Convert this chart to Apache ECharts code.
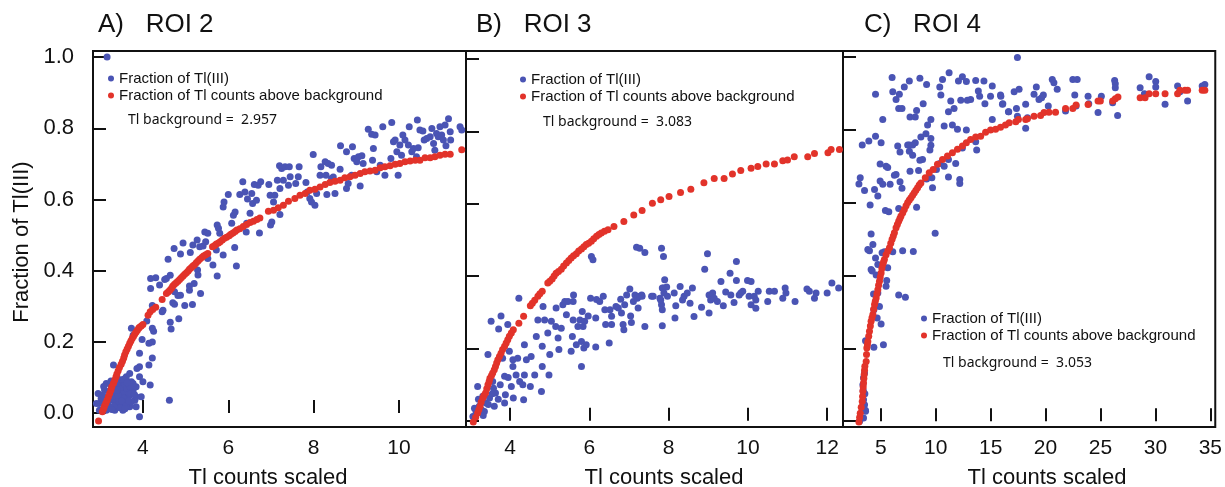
<!DOCTYPE html>
<html>
<head>
<meta charset="utf-8">
<script src="https://cdn.jsdelivr.net/npm/echarts@6/dist/echarts.min.js"></script>
<style>
  html, body { margin: 0; padding: 0; background: #fff; }
  #main { width: 1225px; height: 487px; }
</style>
</head>
<body>
<div id="main"></div>
<script>
// ROI 2 (panel A)
var roi2Tl3 = [
  [3.16,1.0],
  [2.95,0.055],[2.98,0.027],[3.10,0.065],[3.18,0.046],[3.26,0.074],[3.30,0.036],[3.38,0.055],[3.45,0.083],[3.49,0.027],[3.57,0.065],
  [3.61,0.046],[3.65,0.088],[3.69,0.018],[3.77,0.065],[3.81,0.036],[3.84,0.074],[3.22,0.018],[3.34,0.008],[3.53,0.008],[3.14,0.083],
  [3.41,0.097],[3.61,0.102],[3.73,0.088],[3.92,0.102],[4.00,0.088],[3.84,0.046],[3.96,0.046],[3.84,0.018],[3.02,0.041],[3.26,0.055],
  [3.38,0.069],[3.49,0.046],[3.57,0.032],[3.69,0.05],[3.30,0.088],[3.77,0.083],[3.06,0.05],[3.18,0.032],[3.34,0.046],[3.45,0.06],
  [3.53,0.074],[3.65,0.06],[3.41,0.022],[3.61,0.022],[3.73,0.032],[3.30,0.069],[3.49,0.088],[3.14,0.008],[2.91,0.027],[2.98,0.008],
  [3.22,0.062],[3.28,0.045],[3.33,0.06],[3.36,0.03],[3.40,0.078],[3.43,0.04],[3.47,0.068],[3.51,0.055],[3.55,0.042],[3.58,0.08],
  [3.62,0.07],[3.66,0.035],[3.70,0.075],[3.42,0.05],[3.36,0.085],[3.46,0.015],[3.54,0.095],[3.25,0.09],[3.12,0.03],[3.08,0.075],
  [3.58,0.012],[3.72,0.055],[3.80,0.052],[3.32,0.02],[3.40,0.065],[3.50,0.035],[3.63,0.085],[3.27,0.01],
  [3.92,-0.01],[4.62,0.036],[3.31,0.135],[3.69,0.111],[4.17,0.079],[3.86,0.125],[3.92,0.13],[4.14,0.135],[4.22,0.155],[3.92,0.168],
  [3.77,0.219],[3.73,0.238],[3.98,0.207],[4.14,0.196],[4.22,0.2],[4.25,0.23],[4.22,0.238],[4.09,0.259],[4.22,0.302],[4.45,0.285],
  [4.47,0.289],[4.64,0.255],[4.66,0.236],[4.84,0.265],[4.70,0.31],[4.74,0.306],[4.98,0.302],[5.16,0.305],[4.82,0.33],[4.18,0.378],
  [4.18,0.35],[4.30,0.38],[4.39,0.36],[4.51,0.375],[4.64,0.387],[4.55,0.378],[4.74,0.341],[4.88,0.331],[5.09,0.357],[5.09,0.345],
  [5.20,0.364],[5.35,0.336],[5.28,0.402],[5.29,0.388],[4.59,0.432],[4.73,0.462],[4.88,0.447],[4.94,0.478],[5.11,0.451],[5.17,0.472],
  [5.27,0.486],[5.33,0.467],[5.41,0.469],[5.47,0.481],[5.52,0.434],[5.64,0.416],[5.74,0.385],[5.72,0.458],[5.88,0.444],[6.15,0.465],
  [6.19,0.413],[5.45,0.509],[5.52,0.505],[5.80,0.505],[6.42,0.509],[6.73,0.506],
  [5.74,0.528],[5.77,0.519],[5.88,0.579],[5.90,0.593],[6.00,0.614],[6.12,0.556],[6.16,0.565],[6.08,0.533],[6.27,0.614],[6.34,0.65],
  [6.39,0.621],[6.45,0.601],[6.55,0.617],[6.57,0.589],[6.61,0.642],[6.66,0.598],[6.70,0.64],[6.76,0.65],[6.51,0.561],[6.43,0.533],
  [6.95,0.642],[6.98,0.612],[7.02,0.537],[6.99,0.528],[7.06,0.593],[7.09,0.612],[7.15,0.654],[7.21,0.631],[7.21,0.558],[7.20,0.695],
  [7.25,0.687],[7.29,0.654],[7.33,0.692],[7.43,0.692],[7.45,0.664],[7.41,0.64],[7.58,0.645],[7.64,0.664],[7.66,0.692],[7.82,0.648],
  [7.85,0.621],[7.91,0.603],[7.95,0.593],[8.03,0.584],[7.99,0.726],[8.07,0.617],[8.15,0.668],[8.17,0.692],[8.27,0.706],[8.34,0.701],
  [8.42,0.696],[8.31,0.614],[8.50,0.617],[8.42,0.659],[8.29,0.668],[8.46,0.663],[8.62,0.685],[8.63,0.751],[8.77,0.734],[8.91,0.748],
  [8.77,0.631],[8.81,0.645],[8.89,0.668],[8.95,0.715],[9.01,0.706],[9.05,0.72],[9.09,0.638],[9.13,0.723],[9.16,0.701],[9.28,0.797],
  [9.36,0.783],[9.40,0.743],[9.44,0.781],[9.38,0.71],[9.48,0.678],[9.56,0.696],[9.62,0.804],[9.67,0.668],[9.81,0.715],[9.83,0.816],
  [9.87,0.762],[9.91,0.767],[9.95,0.734],[10.02,0.753],[9.98,0.668],[10.09,0.781],[10.14,0.767],[10.06,0.724],[10.22,0.753],[10.24,0.804],
  [10.30,0.734],[10.34,0.743],[10.43,0.823],[10.45,0.745],[10.41,0.72],[10.49,0.795],[10.56,0.792],[10.59,0.767],[10.65,0.771],[10.73,0.776],
  [10.77,0.799],[10.81,0.757],[10.84,0.738],[10.88,0.785],[10.92,0.776],[10.96,0.804],[11.00,0.781],[11.04,0.767],[11.08,0.809],[11.10,0.751],
  [11.16,0.827],[11.20,0.79],[11.21,0.767],[11.43,0.804],[11.47,0.795]
];
var roi2Counts = [
  [2.96,-0.022],[3.05,0.004],[3.08,0.012],[3.10,0.02],[3.13,0.028],[3.16,0.036],[3.19,0.046],[3.22,0.055],[3.25,0.065],[3.27,0.074],
  [3.31,0.084],[3.34,0.093],[3.37,0.102],[3.39,0.11],[3.42,0.119],[3.45,0.128],[3.49,0.137],[3.52,0.146],[3.55,0.155],[3.57,0.163],
  [3.60,0.172],[3.63,0.18],[3.66,0.188],[3.69,0.196],[3.72,0.203],[3.75,0.21],[3.78,0.216],[3.81,0.222],[3.84,0.228],[3.87,0.233],
  [3.90,0.238],[3.92,0.241],[3.96,0.245],[4.00,0.249],
  [4.12,0.275],[4.17,0.285],[4.23,0.291],[4.30,0.297],[4.45,0.319],[4.55,0.336],[4.59,0.34],[4.63,0.345],[4.67,0.351],[4.70,0.357],
  [4.74,0.362],[4.78,0.366],[4.82,0.37],[4.86,0.375],[4.90,0.38],[4.94,0.385],[4.98,0.39],[5.02,0.394],[5.06,0.399],[5.09,0.404],
  [5.13,0.408],[5.17,0.413],[5.21,0.417],[5.25,0.422],[5.29,0.427],[5.33,0.432],[5.38,0.437],[5.42,0.441],[5.47,0.445],[5.52,0.448],
  [5.63,0.467],[5.68,0.471],[5.72,0.475],[5.77,0.478],[5.81,0.481],[5.86,0.486],[5.91,0.491],[5.96,0.494],[6.02,0.498],[6.06,0.502],
  [6.11,0.506],[6.16,0.51],[6.20,0.514],[6.27,0.518],[6.35,0.524],[6.43,0.53],[6.51,0.535],[6.59,0.539],[6.67,0.544],[6.74,0.548],
  [6.94,0.567],[7.06,0.57],[7.17,0.577],[7.29,0.584],[7.41,0.595],[7.56,0.603],[7.68,0.612],[7.80,0.617],[7.91,0.626],[8.03,0.629],
  [8.15,0.635],[8.27,0.642],[8.38,0.648],[8.50,0.651],[8.62,0.654],[8.73,0.661],[8.85,0.664],[8.97,0.668],[9.09,0.673],[9.20,0.678],
  [9.32,0.68],[9.44,0.682],[9.56,0.689],[9.67,0.692],[9.79,0.695],[9.91,0.699],[10.02,0.701],[10.14,0.706],[10.26,0.708],[10.38,0.71],
  [10.49,0.71],[10.61,0.717],[10.73,0.717],[10.84,0.72],[10.96,0.724],[11.08,0.727],[11.20,0.727],[11.47,0.74]
];

// ROI 3 (panel B)
var roi3Tl3 = [
  [3.06,0.012],[3.14,0.026],[3.18,0.095],[3.22,0.04],[3.27,0.054],[3.31,0.068],[3.35,0.026],[3.39,0.049],[3.44,0.183],[3.48,0.063],
  [3.52,0.275],[3.56,0.109],[3.60,0.04],[3.63,0.077],[3.71,0.254],[3.77,0.29],[3.81,0.173],[3.86,0.123],[3.86,0.049],[3.88,0.072],
  [3.94,0.266],[3.98,0.192],[4.03,0.095],[4.07,0.15],[4.07,0.169],[4.08,0.063],[4.15,0.127],[4.19,0.173],[4.22,0.339],[4.24,0.109],
  [4.32,0.1],[4.34,0.058],[4.36,0.127],[4.36,0.21],[4.41,0.169],[4.51,0.095],[4.53,0.178],[4.62,0.127],[4.66,0.233],[4.70,0.279],
  [4.79,0.081],[4.81,0.206],[4.81,0.15],[4.83,0.316],[4.87,0.279],[4.95,0.243],[4.98,0.127],[5.00,0.183],[5.04,0.275],[5.15,0.261],
  [5.16,0.312],[5.21,0.229],[5.23,0.197],[5.29,0.256],[5.33,0.321],[5.38,0.33],[5.42,0.293],[5.46,0.33],[5.54,0.192],[5.57,0.233],
  [5.59,0.33],[5.59,0.279],[5.60,0.348],[5.67,0.21],[5.71,0.261],[5.76,0.279],[5.80,0.15],[5.80,0.219],[5.82,0.302],[5.84,0.261],
  [5.86,0.201],[5.88,0.275],[5.92,0.21],[5.97,0.29],[6.05,0.454],[6.09,0.445],[6.03,0.339],[6.16,0.284],[6.16,0.204],[6.18,0.335],
  [6.26,0.33],[6.35,0.344],[6.39,0.307],[6.41,0.266],[6.50,0.215],[6.52,0.307],[6.56,0.266],[6.56,0.289],[6.67,0.316],[6.73,0.312],
  [6.79,0.336],[6.81,0.298],[6.85,0.266],[6.87,0.252],[6.89,0.321],[6.94,0.348],[7.02,0.364],[7.04,0.29],[7.06,0.272],[7.11,0.33],
  [7.15,0.348],[7.19,0.48],[7.21,0.339],[7.23,0.312],[7.27,0.344],[7.27,0.477],[7.32,0.348],[7.40,0.261],[7.40,0.465],[7.57,0.344],
  [7.78,0.339],[7.82,0.477],[7.84,0.263],[7.87,0.454],[7.82,0.321],[7.87,0.367],
  [3.10,0.035],[3.20,0.06],[3.28,0.03],[3.45,0.045],[3.55,0.075],[3.70,0.06],[3.75,0.1],[3.95,0.12],[3.58,0.09],[3.32,0.015],
  [7.33,0.344],[7.61,0.344],[7.80,0.334],[7.84,0.307],[7.90,0.39],[7.95,0.37],[7.84,0.367],[7.88,0.353],[7.97,0.344],[8.14,0.353],
  [8.18,0.318],[8.16,0.284],[8.29,0.371],[8.35,0.334],[8.39,0.344],[8.47,0.353],[8.54,0.325],[8.60,0.367],[8.64,0.288],[8.83,0.314],
  [8.91,0.419],[8.98,0.462],[9.02,0.348],[9.02,0.298],[9.06,0.334],[9.11,0.353],[9.15,0.339],[9.23,0.33],[9.32,0.385],[9.38,0.318],
  [9.44,0.356],[9.55,0.408],[9.57,0.348],[9.65,0.327],[9.71,0.44],[9.71,0.388],[9.78,0.348],[9.82,0.353],[9.87,0.358],[9.99,0.388],
  [10.08,0.385],[10.03,0.344],[10.08,0.321],[10.16,0.344],[10.20,0.311],[10.26,0.358],[10.20,0.334],[10.50,0.33],[10.54,0.358],[10.67,0.358],
  [10.88,0.339],[10.94,0.367],[10.96,0.353],[11.19,0.33],[11.49,0.364],[11.55,0.358],[11.68,0.339],[11.72,0.353],[12.00,0.353],[12.12,0.381],
  [12.29,0.367]
];
var roi3Counts = [
  [3.07,-0.003],[3.13,0.01],[3.18,0.022],[3.21,0.031],[3.24,0.04],[3.27,0.052],[3.31,0.063],[3.34,0.07],[3.38,0.077],[3.41,0.089],
  [3.44,0.1],[3.47,0.109],[3.49,0.118],[3.53,0.125],[3.56,0.132],[3.60,0.141],[3.63,0.15],[3.66,0.16],[3.69,0.169],[3.73,0.178],
  [3.77,0.187],[3.81,0.197],[3.86,0.206],[3.90,0.215],[3.94,0.224],[3.98,0.234],[4.03,0.243],[4.08,0.252],[4.22,0.27],[4.34,0.289],
  [4.51,0.318],[4.56,0.325],[4.62,0.333],[4.70,0.344],[4.75,0.351],[4.81,0.358],[4.95,0.381],[5.00,0.386],[5.06,0.392],[5.11,0.4],
  [5.16,0.408],[5.22,0.413],[5.29,0.419],[5.35,0.428],[5.42,0.436],[5.48,0.443],[5.54,0.45],[5.60,0.456],[5.67,0.462],[5.73,0.469],
  [5.80,0.475],[5.86,0.481],[5.92,0.487],[5.98,0.491],[6.05,0.496],[6.11,0.503],[6.18,0.51],[6.24,0.515],[6.30,0.519],[6.38,0.524],[6.47,0.528],
  [6.62,0.537],[6.87,0.551],[7.12,0.569],[7.33,0.581],[7.59,0.601],[7.80,0.611],[8.01,0.62],[8.30,0.631],[8.56,0.64],[8.89,0.658],
  [9.15,0.67],[9.40,0.67],[9.61,0.682],[9.82,0.692],[10.08,0.698],[10.25,0.703],[10.46,0.71],[10.67,0.71],[10.88,0.719],[11.00,0.721],
  [11.17,0.73],[11.51,0.73],[11.68,0.739],[12.02,0.741],[12.10,0.75],[12.31,0.75]
];

// ROI 4 (panel C)
var roi4Tl3 = [
  [3.07,0.0],[3.43,0.009],[3.61,0.027],[3.52,0.045],[3.43,0.059],[3.37,0.1],[3.52,0.132],[3.43,0.119],[3.60,0.03],[3.55,0.075],[3.40,0.085],
  [3.61,0.221],[4.37,0.203],[5.24,0.21],[5.03,0.267],[4.67,0.283],[4.88,0.315],[4.37,0.306],[4.34,0.349],[4.73,0.352],
  [5.48,0.37],[5.54,0.386],[4.58,0.401],[4.22,0.412],[4.12,0.416],[5.63,0.421],[4.73,0.43],[4.52,0.448],[5.12,0.462],[5.33,0.465],
  [6.09,0.465],[3.97,0.468],[3.82,0.471],[4.28,0.485],[4.12,0.514],[6.63,0.346],[7.24,0.34],[6.99,0.468],[7.96,0.466],[9.95,0.516],
  [4.03,0.593],[5.42,0.578],[5.73,0.575],[6.63,0.584],[8.26,0.587],[3.52,0.633],[3.01,0.651],[3.13,0.668],[4.43,0.636],[4.73,0.618],
  [4.94,0.659],[5.18,0.65],[5.85,0.65],[6.24,0.675],[6.39,0.677],[6.75,0.657],[6.93,0.639],[5.48,0.7],[5.63,0.696],[4.94,0.706],
  [7.66,0.686],[8.44,0.688],[8.80,0.718],[8.56,0.716],[7.90,0.73],[9.71,0.641],[9.65,0.668],[9.17,0.665],[10.07,0.691],[11.16,0.67],
  [12.19,0.663],[12.19,0.652],[10.77,0.7],[10.37,0.707],[11.82,0.707],[11.16,0.718],[12.43,0.75],[13.73,0.744],[3.31,0.758],[3.91,0.769],
  [4.52,0.782],[5.03,0.764],[6.54,0.755],[6.75,0.739],[7.45,0.758],[7.60,0.758],[7.90,0.758],[8.14,0.764],[7.60,0.741],[8.65,0.78],
  [9.56,0.776],[9.56,0.757],[9.47,0.744],[9.11,0.789],[9.56,0.828],[9.26,0.813],[10.77,0.81],[11.52,0.813],[11.98,0.801],[12.79,0.799],
  [5.18,0.828],[4.52,0.897],[6.03,0.943],[6.09,0.904],[6.39,0.883],[6.69,0.897],[7.14,0.917],[6.63,0.858],[6.93,0.858],[7.60,0.934],
  [7.66,0.835],[8.14,0.835],[8.26,0.853],[8.56,0.941],[8.86,0.871],[9.17,0.924],[10.37,0.917],[10.47,0.895],[10.62,0.938],[11.22,0.956],
  [11.16,0.849],[11.37,0.879],[11.67,0.858],[12.07,0.934],[12.43,0.945],[12.79,0.932],[12.28,0.881],[12.88,0.881],[13.18,0.883],[13.64,0.935],
  [13.88,0.906],[14.39,0.934],[14.00,0.892],[14.48,0.871],[15.15,0.92],[14.99,0.892],[15.90,0.895],[16.11,0.871],[16.65,0.849],[15.15,0.828],
  [13.64,0.767],
  [17.44,0.998],[15.93,0.892],[16.08,0.87],[16.62,0.849],[17.14,0.904],[17.59,0.911],[17.35,0.858],[17.44,0.837],[18.19,0.87],[18.19,0.804],
  [18.35,0.833],[18.95,0.897],[19.16,0.917],[19.40,0.883],[19.64,0.888],[19.80,0.895],[20.25,0.865],[20.61,0.938],[20.76,0.929],[21.06,0.911],
  [21.82,0.851],[22.48,0.938],[22.88,0.938],[22.66,0.895],[22.78,0.865],[23.87,0.892],[23.93,0.871],[24.78,0.847],[25.08,0.892],[26.11,0.874],
  [26.29,0.935],[26.35,0.926],[26.35,0.915],[26.56,0.839],[28.61,0.915],[29.00,0.899],[29.43,0.945],[30.03,0.932],[30.03,0.917],[30.88,0.87],
  [32.02,0.92],[32.23,0.904],[32.93,0.879],[34.26,0.92],[34.50,0.924]
];
var roi4Counts = [
  [3.01,-0.002],[3.07,0.01],[3.13,0.022],[3.22,0.038],[3.31,0.054],[3.34,0.068],[3.37,0.082],[3.40,0.094],[3.43,0.105],[3.46,0.117],
  [3.49,0.128],[3.52,0.14],[3.55,0.151],[3.67,0.164],[3.70,0.183],[3.73,0.201],[3.78,0.21],[3.82,0.219],[3.90,0.233],[3.97,0.247],
  [4.05,0.261],[4.12,0.274],[4.20,0.284],[4.28,0.293],[4.35,0.307],[4.43,0.32],[4.50,0.329],[4.58,0.338],[4.65,0.35],[4.73,0.361],
  [4.80,0.373],[4.88,0.384],[4.95,0.396],[5.03,0.407],[5.10,0.419],[5.18,0.43],[5.25,0.437],[5.33,0.444],[5.48,0.457],[5.64,0.467],
  [5.79,0.476],[5.91,0.488],[6.03,0.499],[6.14,0.508],[6.24,0.517],[6.39,0.531],[6.51,0.54],[6.63,0.549],[6.74,0.556],[6.84,0.563],
  [7.00,0.572],[7.14,0.581],[7.30,0.591],[7.45,0.6],[7.60,0.607],[7.75,0.613],[7.90,0.62],[8.05,0.627],[8.20,0.634],[8.35,0.641],
  [8.50,0.648],[8.65,0.654],[9.05,0.668],[9.41,0.682],[9.77,0.691],[10.16,0.705],[10.62,0.718],[11.07,0.728],[11.52,0.737],
  [11.98,0.746],[12.43,0.755],[12.79,0.764],[13.18,0.773],[13.64,0.78],[14.09,0.782],[14.54,0.793],[14.99,0.799],[15.45,0.801],[15.90,0.807],
  [16.35,0.813],[16.69,0.819],[17.29,0.822],[17.53,0.828],[18.19,0.828],[18.35,0.83],[18.95,0.837],[19.55,0.839],[19.86,0.847],[20.31,0.848],
  [20.91,0.848],[21.82,0.858],[22.48,0.858],[22.78,0.868],[23.87,0.869],[24.78,0.879],[24.99,0.879],[26.11,0.879],[26.35,0.885],[26.59,0.89],
  [28.61,0.888],[29.06,0.888],[29.43,0.899],[30.03,0.899],[30.88,0.899],[32.02,0.899],[32.23,0.908],[32.69,0.908],[32.93,0.908],[34.26,0.908],
  [34.50,0.908]
];

var panelTitles = ['A)   ROI 2', 'B)   ROI 3', 'C)   ROI 4'];
var backgrounds = ['Tl background =  2.957', 'Tl background =  3.083', 'Tl background =  3.053'];
var xRanges = [[2.83, 11.57], [2.886, 12.4], [1.56, 35.45]];
var yRanges = [[-0.039, 1.017], [-0.017, 1.022], [-0.016, 1.016]];
var seriesNames = ['Fraction of Tl(III)', 'Fraction of Tl counts above background'];

var BLUE = '#4a54b4';
var RED = '#e2332a';
var FONT = '"Liberation Sans", Arial, sans-serif';

var mychar = echarts.init(document.getElementById('main'), null, { renderer: 'canvas' });

function xAxisFor(i) {
    return {
        type: 'value', gridIndex: i, min: xRanges[i][0], max: xRanges[i][1],
        splitLine: { show: false },
        axisLine: { show: false },
        axisTick: { show: true, inside: true, length: 13, lineStyle: { color: '#111', width: 2 } },
        axisLabel: { show: true, margin: 11, fontSize: 21, color: '#111', fontFamily: FONT,
                     showMinLabel: false, showMaxLabel: false }
    };
}
function yAxisFor(i) {
    return {
        type: 'value', gridIndex: i, min: yRanges[i][0], max: yRanges[i][1],
        splitLine: { show: false },
        axisLine: { show: false },
        axisTick: { show: true, inside: true, length: 13, lineStyle: { color: '#111', width: 2 } },
        axisLabel: { show: i === 0, margin: 19, fontSize: 22, color: '#111', fontFamily: FONT,
                     showMinLabel: false, showMaxLabel: false,
                     formatter: function (v) { return v.toFixed(1); } }
    };
}

var grids = [
    { left: 93, top: 51, width: 373, height: 376 },
    { left: 466, top: 51, width: 377, height: 376 },
    { left: 843, top: 51, width: 374, height: 376 }
];
grids.forEach(function (g) { g.show = true; g.borderColor = '#111'; g.borderWidth = 2; g.containLabel = false; });

var legendPos = [{ left: 103, top: 66 }, { left: 515, top: 67 }, { left: 916, top: 306 }];
var legends = legendPos.map(function (p) {
    return {
        left: p.left, top: p.top, orient: 'vertical', icon: 'circle',
        itemWidth: 6, itemHeight: 6, itemGap: 2, selectedMode: false,
        textStyle: { fontSize: 15, color: '#111', fontFamily: FONT, lineHeight: 15 },
        data: seriesNames
    };
});

var dataSets = [[roi2Tl3, roi2Counts], [roi3Tl3, roi3Counts], [roi4Tl3, roi4Counts]];
var series = [];
dataSets.forEach(function (d, i) {
    series.push({ name: seriesNames[0], type: 'scatter', xAxisIndex: i, yAxisIndex: i,
                  symbolSize: 7, itemStyle: { color: BLUE, opacity: 1 }, data: d[0] });
    series.push({ name: seriesNames[1], type: 'scatter', xAxisIndex: i, yAxisIndex: i,
                  symbolSize: 7, itemStyle: { color: RED, opacity: 1 }, data: d[1] });
});

var titleX = [98, 476, 864];
var bgPos = [[128, 120], [543, 122], [943, 363]];
var xNameX = [268, 664, 1047];
var graphics = [];
for (var i = 0; i < 3; i++) {
    graphics.push({ type: 'text', x: titleX[i], y: 25,
        style: { text: panelTitles[i], fontSize: 26, fontFamily: FONT, fill: '#111', textAlign: 'left', textVerticalAlign: 'middle' } });
    graphics.push({ type: 'text', x: bgPos[i][0], y: bgPos[i][1],
        style: { text: backgrounds[i], fontSize: 14, fontFamily: '"Noto Sans", "Open Sans", sans-serif', fill: '#111', textAlign: 'left', textVerticalAlign: 'middle' } });
    graphics.push({ type: 'text', x: xNameX[i], y: 478,
        style: { text: 'Tl counts scaled', fontSize: 22, fontFamily: FONT, fill: '#111', textAlign: 'center', textVerticalAlign: 'middle' } });
}
graphics.push({ type: 'text', x: 22, y: 242, rotation: Math.PI / 2,
    style: { text: 'Fraction of Tl(III)', fontSize: 22, fontFamily: FONT, fill: '#111', textAlign: 'center', textVerticalAlign: 'middle' } });

option = {
    animation: false,
    backgroundColor: '#fff',
    grid: grids,
    legend: legends,
    xAxis: [xAxisFor(0), xAxisFor(1), xAxisFor(2)],
    yAxis: [yAxisFor(0), yAxisFor(1), yAxisFor(2)],
    series: series,
    graphic: graphics
};
mychar.setOption(option);
</script>
</body>
</html>
